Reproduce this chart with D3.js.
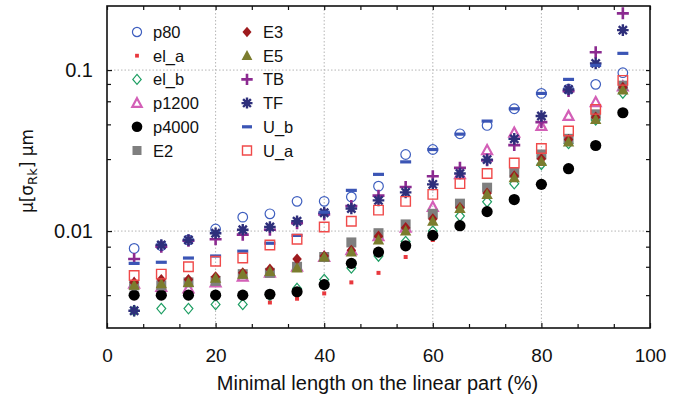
<!DOCTYPE html>
<html>
<head>
<meta charset="utf-8">
<script src="https://cdn.jsdelivr.net/npm/d3@7"></script>
<style>
  body { margin: 0; background: #fff; }
  text { font-family: "Liberation Sans", Arial, sans-serif; fill: #111; }
</style>
</head>
<body>
<svg id="chart" width="697" height="401"></svg>
<script>
// x positions (minimal length, %)
var xVals = [5,10,15,20,25,30,35,40,45,50,55,60,65,70,75,80,85,90,95];

// series values
var p80   = [0.0078,0.0081,0.0088,0.0103,0.0122,0.0128,0.0153,0.0153,0.0163,0.019,0.0299,0.0321,0.0402,0.0453,0.0575,0.0716,0.076,0.0815,0.0963];
var el_a  = [null,null,null,null,null,0.0036,0.0038,0.0041,0.0048,0.0055,0.0069,0.0088,null,null,null,null,null,null,null];
var el_b  = [0.0032,0.0033,0.0033,0.0035,0.0035,0.004,0.0044,0.005,0.0059,0.007,0.0086,0.01,0.0124,0.0152,0.0197,0.026,0.035,0.049,0.072];
var p1200 = [0.0047,0.0045,0.0044,0.0048,0.0052,0.0055,0.006,0.0069,0.0076,0.0093,0.0105,0.0141,0.0225,0.0318,0.0408,0.0449,0.0518,0.0632,0.079];
var p4000 = [0.004,0.004,0.004,0.004,0.004,0.00405,0.0042,0.00465,0.0063,0.0074,0.0081,0.0094,0.0108,0.0132,0.0157,0.0195,0.0244,0.034,0.0543];
var E2    = [0.0046,0.0046,0.0048,0.0049,0.0054,0.0055,0.006,0.0069,0.0085,0.0097,0.011,0.0128,0.0148,0.0186,0.023,0.0299,0.0374,0.0531,0.08];
var E3    = [0.0048,0.005,0.005,0.0052,0.0055,0.0058,0.0067,0.007,0.0076,0.0093,0.0105,0.0119,0.014,0.0172,0.022,0.0281,0.037,0.051,0.078];
var E5    = [0.0046,0.0047,0.0048,0.0051,0.0054,0.0056,0.0059,0.0069,0.0074,0.0088,0.01,0.0115,0.0138,0.0169,0.0214,0.027,0.0357,0.0493,0.0751];
var TB    = [0.0067,0.008,0.0087,0.0089,0.0095,0.0102,0.0112,0.0127,0.0143,0.0166,0.0188,0.0219,0.0247,0.0275,0.0342,0.0475,0.074,0.129,0.225];
var TF    = [0.0032,0.0082,0.0088,0.0097,0.0102,0.0106,0.0115,0.013,0.0138,0.0155,0.0174,0.0195,0.0228,0.0278,0.0374,0.0518,0.0758,0.11,0.177];
var U_b   = [0.0063,0.0064,0.0068,0.007,0.0075,0.0084,0.0094,0.0131,0.0179,0.0225,0.0269,0.0321,0.04,0.0482,0.0575,0.0716,0.0875,0.107,0.127];
var U_a   = [0.0053,0.0054,0.006,0.0065,0.0068,0.0082,0.0089,0.0106,0.0115,0.0135,0.0153,0.0169,0.0197,0.0228,0.0265,0.0326,0.0418,0.057,0.0863];

// tick labels
var xTicks = [0,20,40,60,80,100];
var yTicks = [0.01,0.1];
var yMinor = [0.004,0.006,0.008,0.028,0.046,0.064,0.082];

var seriesNames = ['p80','el_a','el_b','p1200','p4000','E2','E3','E5','TB','TF','U_b','U_a'];
var seriesVals  = [p80, el_a, el_b, p1200, p4000, E2, E3, E5, TB, TF, U_b, U_a];

// marker look per series
var styles = {
  p80:   {shape:'circle',   size:4.8, fill:'none',    stroke:'#3f5fbf', sw:1.2},
  el_a:  {shape:'square',   size:4,   fill:'#e8383d', stroke:'none',    sw:0},
  el_b:  {shape:'diamond',  size:5.2, fill:'none',    stroke:'#1e9e63', sw:1.2},
  p1200: {shape:'triangle', size:5.2, fill:'none',    stroke:'#d35fb7', sw:2.2},
  p4000: {shape:'circle',   size:5.6, fill:'#000',    stroke:'none',    sw:0},
  E2:    {shape:'square',   size:10,  fill:'#7f7f7f', stroke:'none',    sw:0},
  E3:    {shape:'diamond',  size:5.6, fill:'#9e1b1e', stroke:'none',    sw:0},
  E5:    {shape:'triangle', size:6,   fill:'#7b7c2e', stroke:'none',    sw:0},
  TB:    {shape:'plus',     size:6,   fill:'none',    stroke:'#8b2a90', sw:2.6},
  TF:    {shape:'star',     size:5.8, fill:'none',    stroke:'#2e2f7b', sw:2.4},
  U_b:   {shape:'dash',     size:11,  fill:'#3b55b5', stroke:'none',    sw:0},
  U_a:   {shape:'square',   size:9.5, fill:'none',    stroke:'#f04a4a', sw:1.4}
};

function shapePath(shape, s) {
  var p = d3.path(), h;
  if (shape == 'circle') {
    p.moveTo(s, 0); p.arc(0, 0, s, 0, 2 * Math.PI); p.closePath();
  } else if (shape == 'square') {
    h = s / 2; p.rect(-h, -h, s, s);
  } else if (shape == 'diamond') {
    p.moveTo(0, -s); p.lineTo(s * 0.85, 0); p.lineTo(0, s); p.lineTo(-s * 0.85, 0); p.closePath();
  } else if (shape == 'triangle') {
    p.moveTo(0, -s); p.lineTo(s * 0.95, s * 0.75); p.lineTo(-s * 0.95, s * 0.75); p.closePath();
  } else if (shape == 'plus') {
    p.moveTo(-s, 0); p.lineTo(s, 0); p.moveTo(0, -s); p.lineTo(0, s);
  } else if (shape == 'star') {
    for (var k = 0; k < 4; k++) {
      var a = k * Math.PI / 4;
      p.moveTo(-s * Math.cos(a), -s * Math.sin(a));
      p.lineTo(s * Math.cos(a), s * Math.sin(a));
    }
  } else if (shape == 'dash') {
    p.rect(-s / 2, -1.6, s, 3.2);
  }
  return p.toString();
}

var svg = d3.select('#chart');
var pL = 107, pR = 650, pT = 6, pB = 328;

var x = d3.scaleLinear().domain([0, 100]).range([pL, pR]);
var y = d3.scaleLog().domain([0.0025, 0.25]).range([pB, pT]);

// grid
var grid = svg.append('g').attr('stroke', '#b5b5b5').attr('stroke-width', 1).attr('stroke-dasharray', '1.5,2');
grid.selectAll('.gx').data([20, 40, 60, 80]).enter().append('line')
  .attr('x1', function(d) { return x(d); }).attr('x2', function(d) { return x(d); })
  .attr('y1', pT).attr('y2', pB);
grid.selectAll('.gy').data(yTicks).enter().append('line')
  .attr('y1', function(d) { return y(d); }).attr('y2', function(d) { return y(d); })
  .attr('x1', pL).attr('x2', pR);

// axes with inward ticks
var xMinor = d3.range(0, 100.01, 20 / 3).filter(function(d) { return Math.abs(d / 20 - Math.round(d / 20)) > 0.01; });

var xAxis = svg.append('g').attr('transform', 'translate(0,' + pB + ')')
  .call(d3.axisBottom(x).tickValues(xTicks).tickSize(-5).tickPadding(21).tickFormat(d3.format('d')));
svg.append('g').attr('transform', 'translate(0,' + pB + ')')
  .call(d3.axisBottom(x).tickValues(xMinor).tickSize(-4).tickFormat(''));
svg.append('g').attr('transform', 'translate(0,' + pT + ')')
  .call(d3.axisTop(x).tickValues(xTicks.concat(xMinor)).tickSize(-4).tickFormat(''));

var yAxis = svg.append('g').attr('transform', 'translate(' + pL + ',0)')
  .call(d3.axisLeft(y).tickValues(yTicks).tickSize(-5).tickPadding(14).tickFormat(function(d) { return d == 0.1 ? '0.1' : '0.01'; }));
svg.append('g').attr('transform', 'translate(' + pL + ',0)')
  .call(d3.axisLeft(y).tickValues(yMinor).tickSize(-4).tickFormat(''));
svg.append('g').attr('transform', 'translate(' + pR + ',0)')
  .call(d3.axisRight(y).tickValues(yTicks.concat(yMinor)).tickSize(-4).tickFormat(''));

svg.selectAll('.domain').remove();
svg.selectAll('.tick line').attr('stroke', '#111').attr('stroke-width', 1.2);
xAxis.selectAll('text').attr('font-size', 19).attr('fill', '#111').style('font-family', '"Liberation Sans", Arial, sans-serif');
yAxis.selectAll('text').attr('font-size', 20).attr('fill', '#111').style('font-family', '"Liberation Sans", Arial, sans-serif');

// frame
svg.append('rect').attr('x', pL).attr('y', pT).attr('width', pR - pL).attr('height', pB - pT)
  .attr('fill', 'none').attr('stroke', '#111').attr('stroke-width', 1.6);

// points
var plot = svg.append('g');
seriesNames.forEach(function(name, i) {
  var st = styles[name];
  var pts = xVals.map(function(xv, j) { return {x: xv, v: seriesVals[i][j]}; })
                 .filter(function(d) { return d.v != null; });
  plot.selectAll('.s' + i).data(pts).enter().append('path')
    .attr('transform', function(d) { return 'translate(' + x(d.x) + ',' + y(d.v) + ')'; })
    .attr('d', shapePath(st.shape, st.size))
    .attr('fill', st.fill).attr('stroke', st.stroke).attr('stroke-width', st.sw);
});

// legend
var leg = svg.append('g');
seriesNames.forEach(function(name, i) {
  var st = styles[name];
  var col = i < 6 ? 0 : 1, row = i % 6;
  var lx = col == 0 ? 137 : 247, ly = 32 + row * 23.7;
  leg.append('path').attr('transform', 'translate(' + lx + ',' + ly + ')')
    .attr('d', shapePath(st.shape, st.shape == 'dash' ? 10 : st.shape == 'square' && name != 'el_a' ? 9 : st.size * 0.95))
    .attr('fill', st.fill).attr('stroke', st.stroke).attr('stroke-width', st.sw);
  leg.append('text').attr('x', lx + 16).attr('y', ly + 6).attr('font-size', 16.5).text(name);
});

// axis titles
svg.append('text').attr('x', (pL + pR) / 2 - 1).attr('y', 390).attr('text-anchor', 'middle')
  .attr('font-size', 20).text('Minimal length on the linear part (%)');

var yt = svg.append('text').attr('transform', 'translate(33,171) rotate(-90)').attr('text-anchor', 'middle')
  .attr('font-size', 17).style('font-family', '"DejaVu Sans", sans-serif');
yt.append('tspan').text('μ[σ');
yt.append('tspan').attr('font-size', 13).attr('dy', 4).text('Rk');
yt.append('tspan').attr('dy', -4).text('] μm');
</script>
</body>
</html>
